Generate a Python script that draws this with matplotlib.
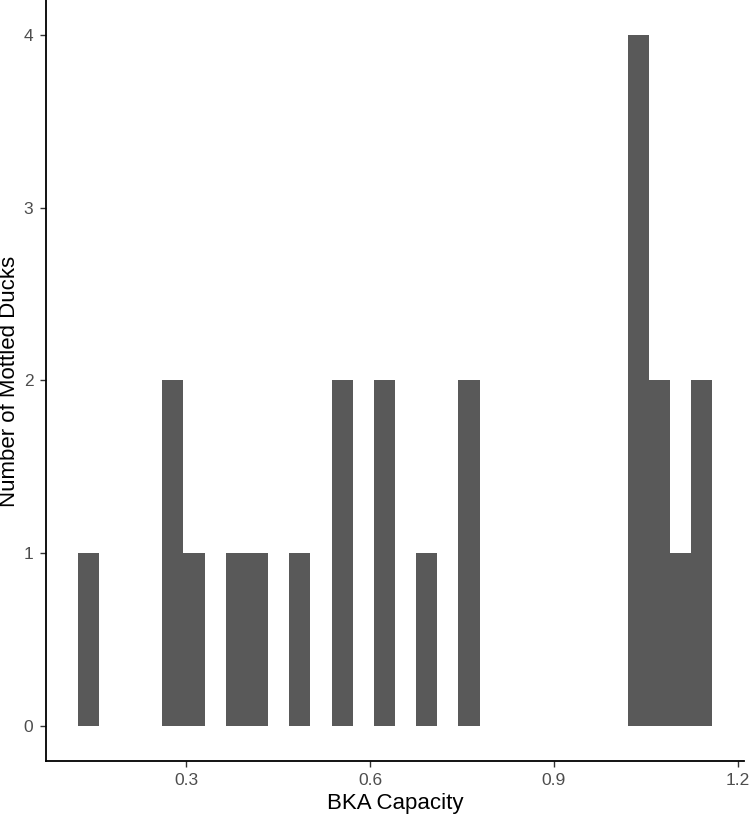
import numpy as np
import matplotlib
matplotlib.use("Agg")
import matplotlib.pyplot as plt

plt.rcParams['font.family'] = ['Liberation Sans', 'DejaVu Sans']

# histogram, 30 bins
bin_start = 0.123
bin_end = 1.1586
counts = [1, 0, 0, 0, 2, 1, 0, 1, 1, 0, 1, 0, 2, 0, 2, 0, 1, 0, 2, 0,
          0, 0, 0, 0, 0, 0, 4, 2, 1, 2]
xticks = [0.3, 0.6, 0.9, 1.2]
yticks = [0, 1, 2, 3, 4]

edges = np.linspace(bin_start, bin_end, len(counts) + 1)
width = edges[1] - edges[0]

fig = plt.figure(figsize=(7.5, 8.18), dpi=100)
ax = fig.add_axes([0.0613, 0.0697, 0.9307, 0.9303])

ax.bar(edges[:-1], counts, width=width, align='edge', color='#595959', edgecolor='none')

span = bin_end - bin_start
ax.set_xlim(bin_start - 0.05 * span, bin_end + 0.05 * span)
ax.set_ylim(-0.2, 4.2)
ax.set_xticks(xticks)
ax.set_xticklabels([str(t) for t in xticks])
ax.set_yticks(yticks)

for s in ['top', 'right']:
    ax.spines[s].set_visible(False)
for s in ['left', 'bottom']:
    ax.spines[s].set_linewidth(1.3)
    ax.spines[s].set_color('black')

ax.tick_params(axis='both', length=4, width=1, color='#333333',
               labelsize=12.5, labelcolor='#4D4D4D', pad=5)
ax.set_xlabel('BKA Capacity', fontsize=16, labelpad=3)
# y title placed by hand so it stays inside the canvas
fig.text(10 / 750, 1 - 381 / 818, 'Number of Mottled Ducks', fontsize=16,
         rotation=90, ha='center', va='center')

fig.savefig('out.png', dpi=100)
